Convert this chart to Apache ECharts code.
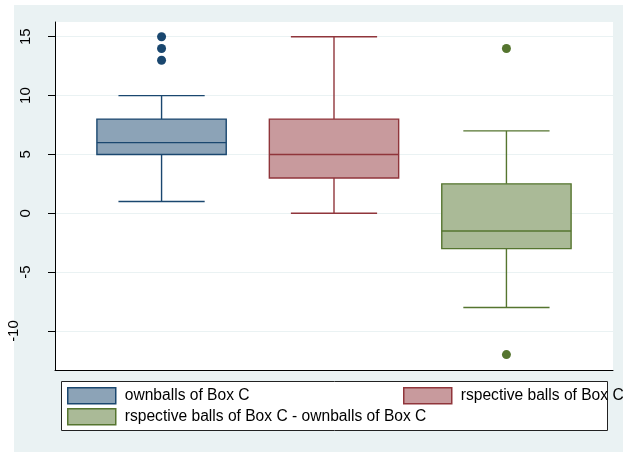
<!DOCTYPE html>
<html>
<head>
<meta charset="utf-8">
<script src="https://cdn.jsdelivr.net/npm/echarts@6/dist/echarts.min.js"></script>
<style>
  html, body { margin: 0; padding: 0; background: #fff; }
  #chart { width: 623px; height: 452px; }
</style>
</head>
<body>
<div id="chart"></div>
<script>
// Box plot summaries, one entry per group
const groupNames = [
  'ownballs of Box C',
  'rspective balls of Box C',
  'rspective balls of Box C - ownballs of Box C'
];
const groupPos = [1, 2, 3];
const lowerWhisker = [1, 0, -8];
const q1 = [5, 3, -3];
const median = [6, 5, -1.5];
const q3 = [8, 8, 2.5];
const upperWhisker = [10, 15, 7];
const outliers = [[15, 14, 13], [], [14, -12]];
const yTicks = [-10, -5, 0, 5, 10, 15];

// Stata s2color palette: line colours and 50% fills
const lineColors = ['#1A476F', '#90353B', '#55752F'];
const fillColors = ['#8CA3B7', '#C89A9D', '#AABA97'];
const GRAPH_BG = '#EAF2F3';
const BOX_HALF = 0.375;   // half box width, in x units
const CAP_HALF = 0.25;    // half whisker-cap width, in x units
const FONT = '"Liberation Sans", Arial, sans-serif';

function renderBox(params, api) {
  const x = api.value(0);
  const unit = api.size([1, 0])[0];
  const hb = unit * BOX_HALF;
  const hc = unit * CAP_HALF;
  const cx = api.coord([x, 0])[0];
  const yLo = api.coord([x, api.value(1)])[1];
  const yQ1 = api.coord([x, api.value(2)])[1];
  const yMed = api.coord([x, api.value(3)])[1];
  const yQ3 = api.coord([x, api.value(4)])[1];
  const yHi = api.coord([x, api.value(5)])[1];
  const stroke = lineColors[params.seriesIndex];
  const fill = fillColors[params.seriesIndex];
  const ls = { stroke: stroke, lineWidth: 1.4, fill: null };
  return {
    type: 'group',
    children: [
      { type: 'line', shape: { x1: cx, y1: yQ3, x2: cx, y2: yHi }, style: ls },
      { type: 'line', shape: { x1: cx, y1: yQ1, x2: cx, y2: yLo }, style: ls },
      { type: 'line', shape: { x1: cx - hc, y1: yHi, x2: cx + hc, y2: yHi }, style: ls },
      { type: 'line', shape: { x1: cx - hc, y1: yLo, x2: cx + hc, y2: yLo }, style: ls },
      { type: 'rect', shape: { x: cx - hb, y: yQ3, width: 2 * hb, height: yQ1 - yQ3 },
        style: { fill: fill, stroke: stroke, lineWidth: 1.4 } },
      { type: 'line', shape: { x1: cx - hb, y1: yMed, x2: cx + hb, y2: yMed }, style: ls }
    ]
  };
}

const series = [];
groupNames.forEach(function (name, i) {
  series.push({
    name: name,
    type: 'custom',
    renderItem: renderBox,
    itemStyle: { color: fillColors[i], borderColor: lineColors[i] },
    encode: { x: 0, y: [1, 2, 3, 4, 5] },
    data: [[groupPos[i], lowerWhisker[i], q1[i], median[i], q3[i], upperWhisker[i]]],
    z: 3
  });
});
groupNames.forEach(function (name, i) {
  series.push({
    name: name + ' (outside values)',
    type: 'scatter',
    symbol: 'circle',
    symbolSize: 9,
    itemStyle: { color: lineColors[i], opacity: 1 },
    data: outliers[i].map(function (v) { return [groupPos[i], v]; }),
    z: 4
  });
});

function legendFor(i, left, top) {
  return {
    left: left,
    top: top,
    padding: 0,
    orient: 'horizontal',
    icon: 'rect',
    itemWidth: 48,
    itemHeight: 16,
    selectedMode: false,
    textStyle: {
      fontFamily: FONT, fontSize: 15.6, color: '#000',
      lineHeight: 16, padding: [0, 0, 0, 4]
    },
    data: [{
      name: groupNames[i],
      itemStyle: { color: fillColors[i], borderColor: lineColors[i], borderWidth: 1.5 }
    }],
    z: 10
  };
}

const chart = echarts.init(document.getElementById('chart'), null, { renderer: 'canvas' });
chart.setOption({
  backgroundColor: GRAPH_BG,
  animation: false,
  graphic: [
    { type: 'rect', shape: { x: 0, y: 0, width: 14, height: 452 }, style: { fill: '#fff' }, z: -5, silent: true },
    { type: 'rect', shape: { x: 0, y: 0, width: 623, height: 5 }, style: { fill: '#fff' }, z: -5, silent: true },
    { type: 'rect', shape: { x: 61.5, y: 381.5, width: 546, height: 49 },
      style: { fill: '#fff', stroke: '#222', lineWidth: 1 }, z: 5, silent: true }
  ],
  grid: {
    left: 55, top: 22, width: 558, height: 348,
    show: true, backgroundColor: '#fff', borderWidth: 0
  },
  xAxis: {
    type: 'value',
    min: 0.382, max: 3.618,
    axisLine: { show: true, onZero: false, lineStyle: { color: '#000', width: 1 } },
    axisTick: { show: false },
    axisLabel: { show: false },
    splitLine: { show: false }
  },
  yAxis: {
    type: 'value',
    min: -13.31, max: 16.25,
    axisLine: { show: true, onZero: false, lineStyle: { color: '#000', width: 1 } },
    axisTick: { show: true, length: 7, customValues: yTicks, lineStyle: { color: '#000' } },
    axisLabel: {
      customValues: yTicks,
      rotate: 90,
      margin: 22,
      fontFamily: FONT,
      fontSize: 15,
      color: '#000',
      formatter: function (v) {
        return v === -10 ? '{shift|' + v + '}' : '{n|' + v + '}';
      },
      rich: {
        n: { fontFamily: FONT, fontSize: 15, color: '#000' },
        shift: { fontFamily: FONT, fontSize: 15, color: '#000', padding: [0, 0, 12, 0] }
      }
    },
    splitLine: { show: true, lineStyle: { color: GRAPH_BG, width: 1.2 } }
  },
  legend: [
    legendFor(0, 67, 387),
    legendFor(1, 403, 387),
    legendFor(2, 67, 408)
  ],
  series: series
});
</script>
</body>
</html>
